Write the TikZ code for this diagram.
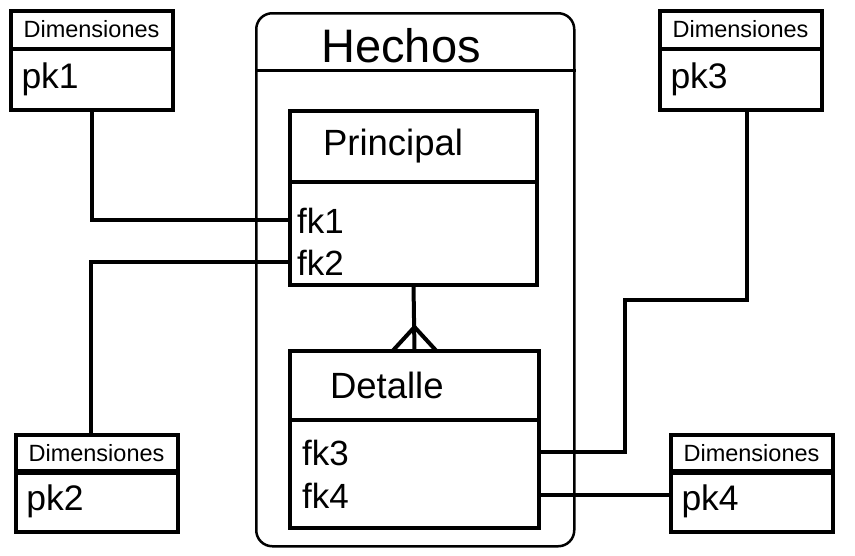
\documentclass[tikz,border=0pt]{standalone}
\usepackage{fontspec}
\setmainfont{Liberation Sans}
\usetikzlibrary{positioning}

\tikzset{
  tbl/.style={draw, line width=4pt, rectangle, outer sep=0pt, inner sep=0pt, anchor=north west},
  dimhead/.style={tbl, minimum width=162pt, minimum height=38pt, font=\fontsize{23.5}{28}\selectfont},
  dimbody/.style={tbl, minimum width=162pt, minimum height=61pt, inner xsep=11pt, text width=140pt, align=left, font=\fontsize{35.5}{43}\selectfont},
  ent/.style={tbl, inner xsep=#1, align=left, font=\fontsize{36.5}{44}\selectfont},
  field/.style={inner sep=0pt, anchor=base west, font=\fontsize{35}{42}\selectfont},
  conn/.style={line width=4pt},
  grupo/.style={draw, line width=2.5pt, rounded corners=16pt, anchor=north west}
}

\begin{document}
\begin{tikzpicture}[x=1pt, y=-1pt]
    \useasboundingbox (0,0) rectangle (855,555);

    % contenedor de hechos
    \node[grupo, minimum width=318pt, minimum height=533pt] (hechos) at (255,12) {};
    \draw[line width=2.5pt] ([yshift=-58.5pt]hechos.north west) -- ([yshift=-58.5pt]hechos.north east);
    \node[anchor=base, font=\fontsize{47}{56}\selectfont] (titulo) at (401,62) {Hechos};

    % tablas de hechos
    \node[ent=33pt, minimum width=247pt, minimum height=71pt, text width=181pt] (prinh) at (290,111) {Principal};
    \node[ent=0pt, minimum width=247pt, minimum height=103pt] (prinb) at (290,182) {};
    \node[field] (fk1) at (297,233) {fk1};
    \node[field] (fk2) at (297,275) {fk2};

    \node[ent=40pt, minimum width=249pt, minimum height=69pt, text width=169pt] (deth) at (290,351) {Detalle};
    \node[ent=0pt, minimum width=249pt, minimum height=108pt] (detb) at (290,420) {};
    \node[field] (fk3) at (302,465) {fk3};
    \node[field] (fk4) at (302,508) {fk4};

    % dimensiones
    \node[dimhead] (dim1h) at (10.5,10.5) {Dimensiones};
    \node[dimbody] (dim1b) at (10.5,48.5) {pk1};
    \node[dimhead] (dim2h) at (15.5,434.5) {Dimensiones};
    \node[dimbody] (dim2b) at (15.5,470.5) {pk2};
    \node[dimhead] (dim3h) at (659.5,10.5) {Dimensiones};
    \node[dimbody] (dim3b) at (659.5,48.5) {pk3};
    \node[dimhead] (dim4h) at (670.5,434.5) {Dimensiones};
    \node[dimbody] (dim4b) at (670.5,470.5) {pk4};

    % relaciones
    \coordinate (codo) at (625,300);
    \draw[conn] (dim1b.south) |- (fk1 -| prinb.west);
    \draw[conn] (fk2 -| prinb.west) -| ([xshift=-6pt]dim2h.north);
    \draw[conn] (fk3 -| detb.east) -| (codo) -| ([xshift=6pt]dim3b.south);
    \draw[conn] (fk4 -| detb.east) -- (fk4 -| dim4b.west);
    \draw[conn] (prinb.south) -- (deth.north);
    \draw[conn] ([xshift=-22pt]deth.north) -- ([yshift=24pt]deth.north) -- ([xshift=22pt]deth.north);
\end{tikzpicture}
\end{document}
